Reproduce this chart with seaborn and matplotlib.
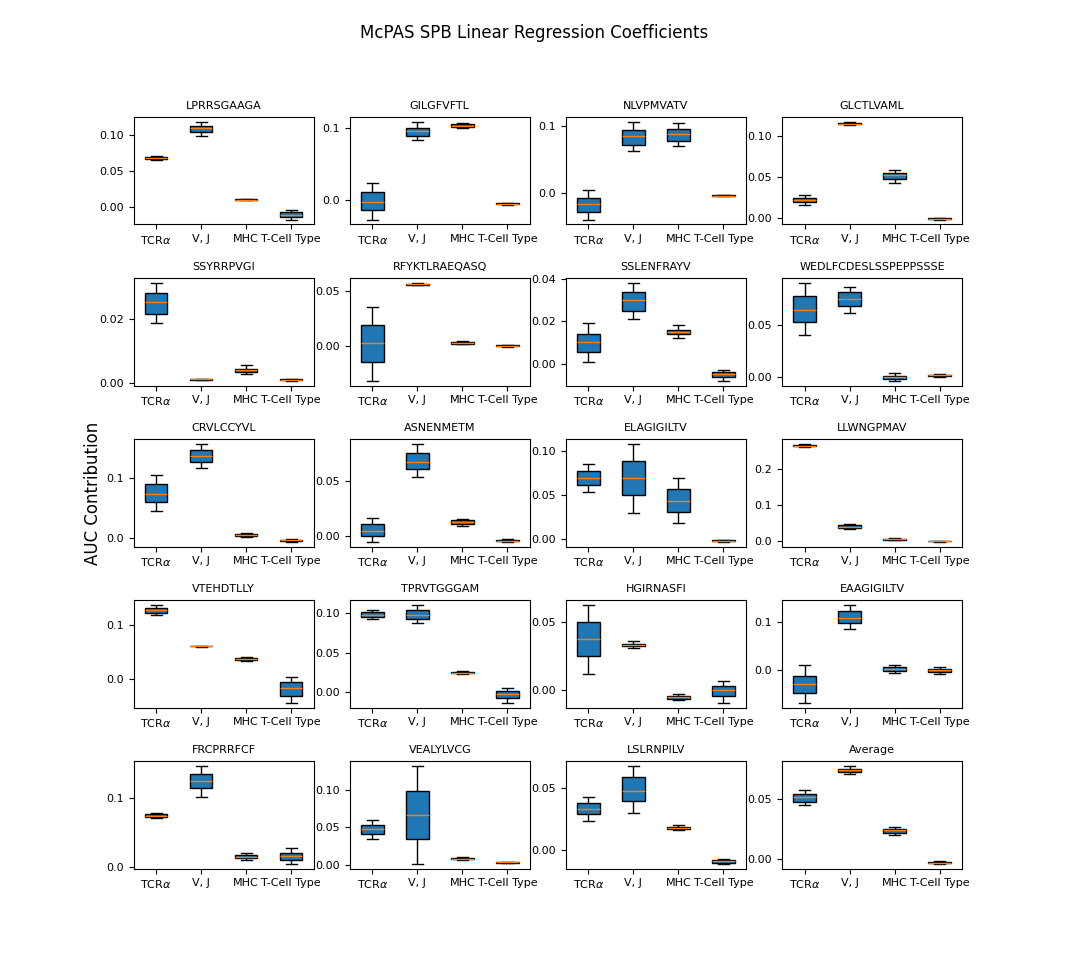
import matplotlib
matplotlib.use("Agg")
import matplotlib.pyplot as plt
import seaborn as sns
import pandas as pd

titles = ["LPRRSGAAGA","GILGFVFTL","NLVPMVATV","GLCTLVAML",
          "SSYRRPVGI","RFYKTLRAEQASQ","SSLENFRAYV","WEDLFCDESLSSPEPPSSSE",
          "CRVLCCYVL","ASNENMETM","ELAGIGILTV","LLWNGPMAV",
          "VTEHDTLLY","TPRVTGGGAM","HGIRNASFI","EAAGIGILTV",
          "FRCPRRFCF","VEALYLVCG","LSLRNPILV","Average"]
categories = ["TCR$\\alpha$", "V, J", "MHC", "T-Cell Type"]
ytick_labels = [["0.00","0.05","0.10"],["0.0","0.1"],["0.0","0.1"],["0.00","0.05","0.10"],
                ["0.00","0.02"],["0.00","0.05"],["0.00","0.02","0.04"],["0.00","0.05"],
                ["0.0","0.1"],["0.00","0.05"],["0.00","0.05","0.10"],["0.0","0.1","0.2"],
                ["0.0","0.1"],["0.00","0.05","0.10"],["0.00","0.05"],["0.0","0.1"],
                ["0.0","0.1"],["0.00","0.05","0.10"],["0.00","0.05"],["0.00","0.05"]]

# five-number summaries (low whisker, q1, median, q3, high whisker)
tcra = [[0.065,0.067,0.068,0.069,0.070],[-0.028,-0.015,-0.003,0.010,0.023],[-0.040,-0.028,-0.016,-0.007,0.005],[0.016,0.019,0.022,0.024,0.028],
        [0.0185,0.0215,0.025,0.028,0.031],[-0.032,-0.015,0.002,0.019,0.035],[0.001,0.0055,0.010,0.014,0.019],[0.040,0.053,0.065,0.078,0.091],
        [0.045,0.060,0.073,0.090,0.105],[-0.005,0.000,0.005,0.011,0.017],[0.053,0.062,0.069,0.077,0.085],[0.262,0.264,0.266,0.268,0.270],
        [0.120,0.124,0.129,0.133,0.138],[0.092,0.095,0.098,0.101,0.104],[0.012,0.025,0.037,0.050,0.062],[-0.068,-0.048,-0.030,-0.012,0.010],
        [0.070,0.072,0.074,0.076,0.078],[0.034,0.041,0.047,0.053,0.060],[0.024,0.029,0.033,0.038,0.043],[0.045,0.048,0.052,0.055,0.058]]
vj = [[0.098,0.104,0.109,0.113,0.118],[0.083,0.089,0.096,0.100,0.108],[0.062,0.072,0.085,0.094,0.106],[0.113,0.114,0.115,0.116,0.117],
      [0.001,0.0011,0.0012,0.0013,0.0014],[0.055,0.0555,0.056,0.0565,0.057],[0.021,0.025,0.030,0.034,0.038],[0.062,0.069,0.075,0.082,0.087],
      [0.117,0.127,0.137,0.147,0.157],[0.054,0.061,0.068,0.076,0.084],[0.030,0.050,0.069,0.089,0.108],[0.034,0.038,0.041,0.044,0.048],
      [0.060,0.0605,0.061,0.0615,0.062],[0.087,0.092,0.098,0.104,0.110],[0.031,0.032,0.033,0.034,0.036],[0.084,0.096,0.108,0.121,0.134],
      [0.101,0.113,0.123,0.134,0.145],[0.001,0.034,0.066,0.099,0.132],[0.030,0.040,0.048,0.059,0.068],[0.071,0.073,0.075,0.076,0.078]]
mhc = [[0.009,0.0095,0.010,0.0105,0.011],[0.099,0.101,0.103,0.105,0.107],[0.070,0.078,0.088,0.095,0.104],[0.043,0.047,0.052,0.055,0.059],
       [0.003,0.0035,0.004,0.0045,0.0055],[0.001,0.0018,0.0025,0.003,0.004],[0.012,0.014,0.015,0.016,0.018],[-0.004,-0.002,0.0,0.001,0.003],
       [0.002,0.004,0.005,0.007,0.009],[0.009,0.011,0.013,0.015,0.016],[0.018,0.031,0.043,0.057,0.069],[0.004,0.005,0.006,0.007,0.008],
       [0.033,0.035,0.037,0.039,0.041],[0.023,0.024,0.025,0.026,0.027],[-0.007,-0.006,-0.005,-0.004,-0.003],[-0.006,-0.002,0.002,0.006,0.010],
       [0.010,0.013,0.015,0.017,0.020],[0.006,0.007,0.008,0.009,0.010],[0.016,0.017,0.018,0.019,0.020],[0.020,0.022,0.024,0.025,0.027]]
tcell = [[-0.018,-0.014,-0.011,-0.008,-0.004],[-0.007,-0.0065,-0.006,-0.0055,-0.005],[-0.005,-0.0045,-0.004,-0.0035,-0.003],[-0.002,-0.0015,-0.001,-0.0005,0.0],
         [0.0008,0.0010,0.0011,0.0012,0.0014],[-0.001,-0.0005,0.0,0.0003,0.0007],[-0.008,-0.0065,-0.005,-0.004,-0.003],[0.0,0.0008,0.0012,0.0016,0.002],
         [-0.006,-0.005,-0.004,-0.003,-0.002],[-0.005,-0.0045,-0.004,-0.0035,-0.003],[-0.003,-0.0025,-0.002,-0.0015,-0.001],[-0.001,-0.0005,0.0,0.0005,0.001],
         [-0.045,-0.032,-0.018,-0.007,0.004],[-0.013,-0.007,-0.002,0.002,0.006],[-0.009,-0.004,0.0,0.003,0.007],[-0.008,-0.004,-0.001,0.002,0.006],
         [0.005,0.010,0.016,0.021,0.027],[0.002,0.0025,0.003,0.0035,0.004],[-0.011,-0.010,-0.009,-0.008,-0.007],[-0.004,-0.0035,-0.003,-0.0025,-0.002]]

fig, axes = plt.subplots(5, 4, figsize=(10.69, 9.76), dpi=100)
fig.subplots_adjust(left=0.125, right=0.9, top=0.88, bottom=0.11, wspace=0.2, hspace=0.5)
series = [tcra, vj, mhc, tcell]
for i, ax in enumerate(axes.flat):
    rows = []
    for cat, s in zip(categories, series):
        for v in s[i]:
            rows.append((cat, v))
    df = pd.DataFrame(rows, columns=["cat", "val"])
    sns.boxplot(data=df, x="cat", y="val", order=categories, ax=ax,
                color="#1f77b4", saturation=1, width=0.5, whis=(0, 100),
                linecolor="black", linewidth=1,
                medianprops={"color": "#ff7f0e"})
    ylim = ax.get_ylim()
    ax.set_yticks([float(t) for t in ytick_labels[i]])
    ax.set_yticklabels(ytick_labels[i])
    ax.set_ylim(ylim)
    ax.set_title(titles[i], fontsize=8)
    ax.set_xlabel("")
    ax.set_ylabel("")
    ax.tick_params(labelsize=8)
fig.suptitle("McPAS SPB Linear Regression Coefficients", fontsize=12, y=0.975)
fig.text(0.087, 0.495, "AUC Contribution", rotation=90, fontsize=12, ha="center", va="center")
fig.savefig("out.png", dpi=100)
